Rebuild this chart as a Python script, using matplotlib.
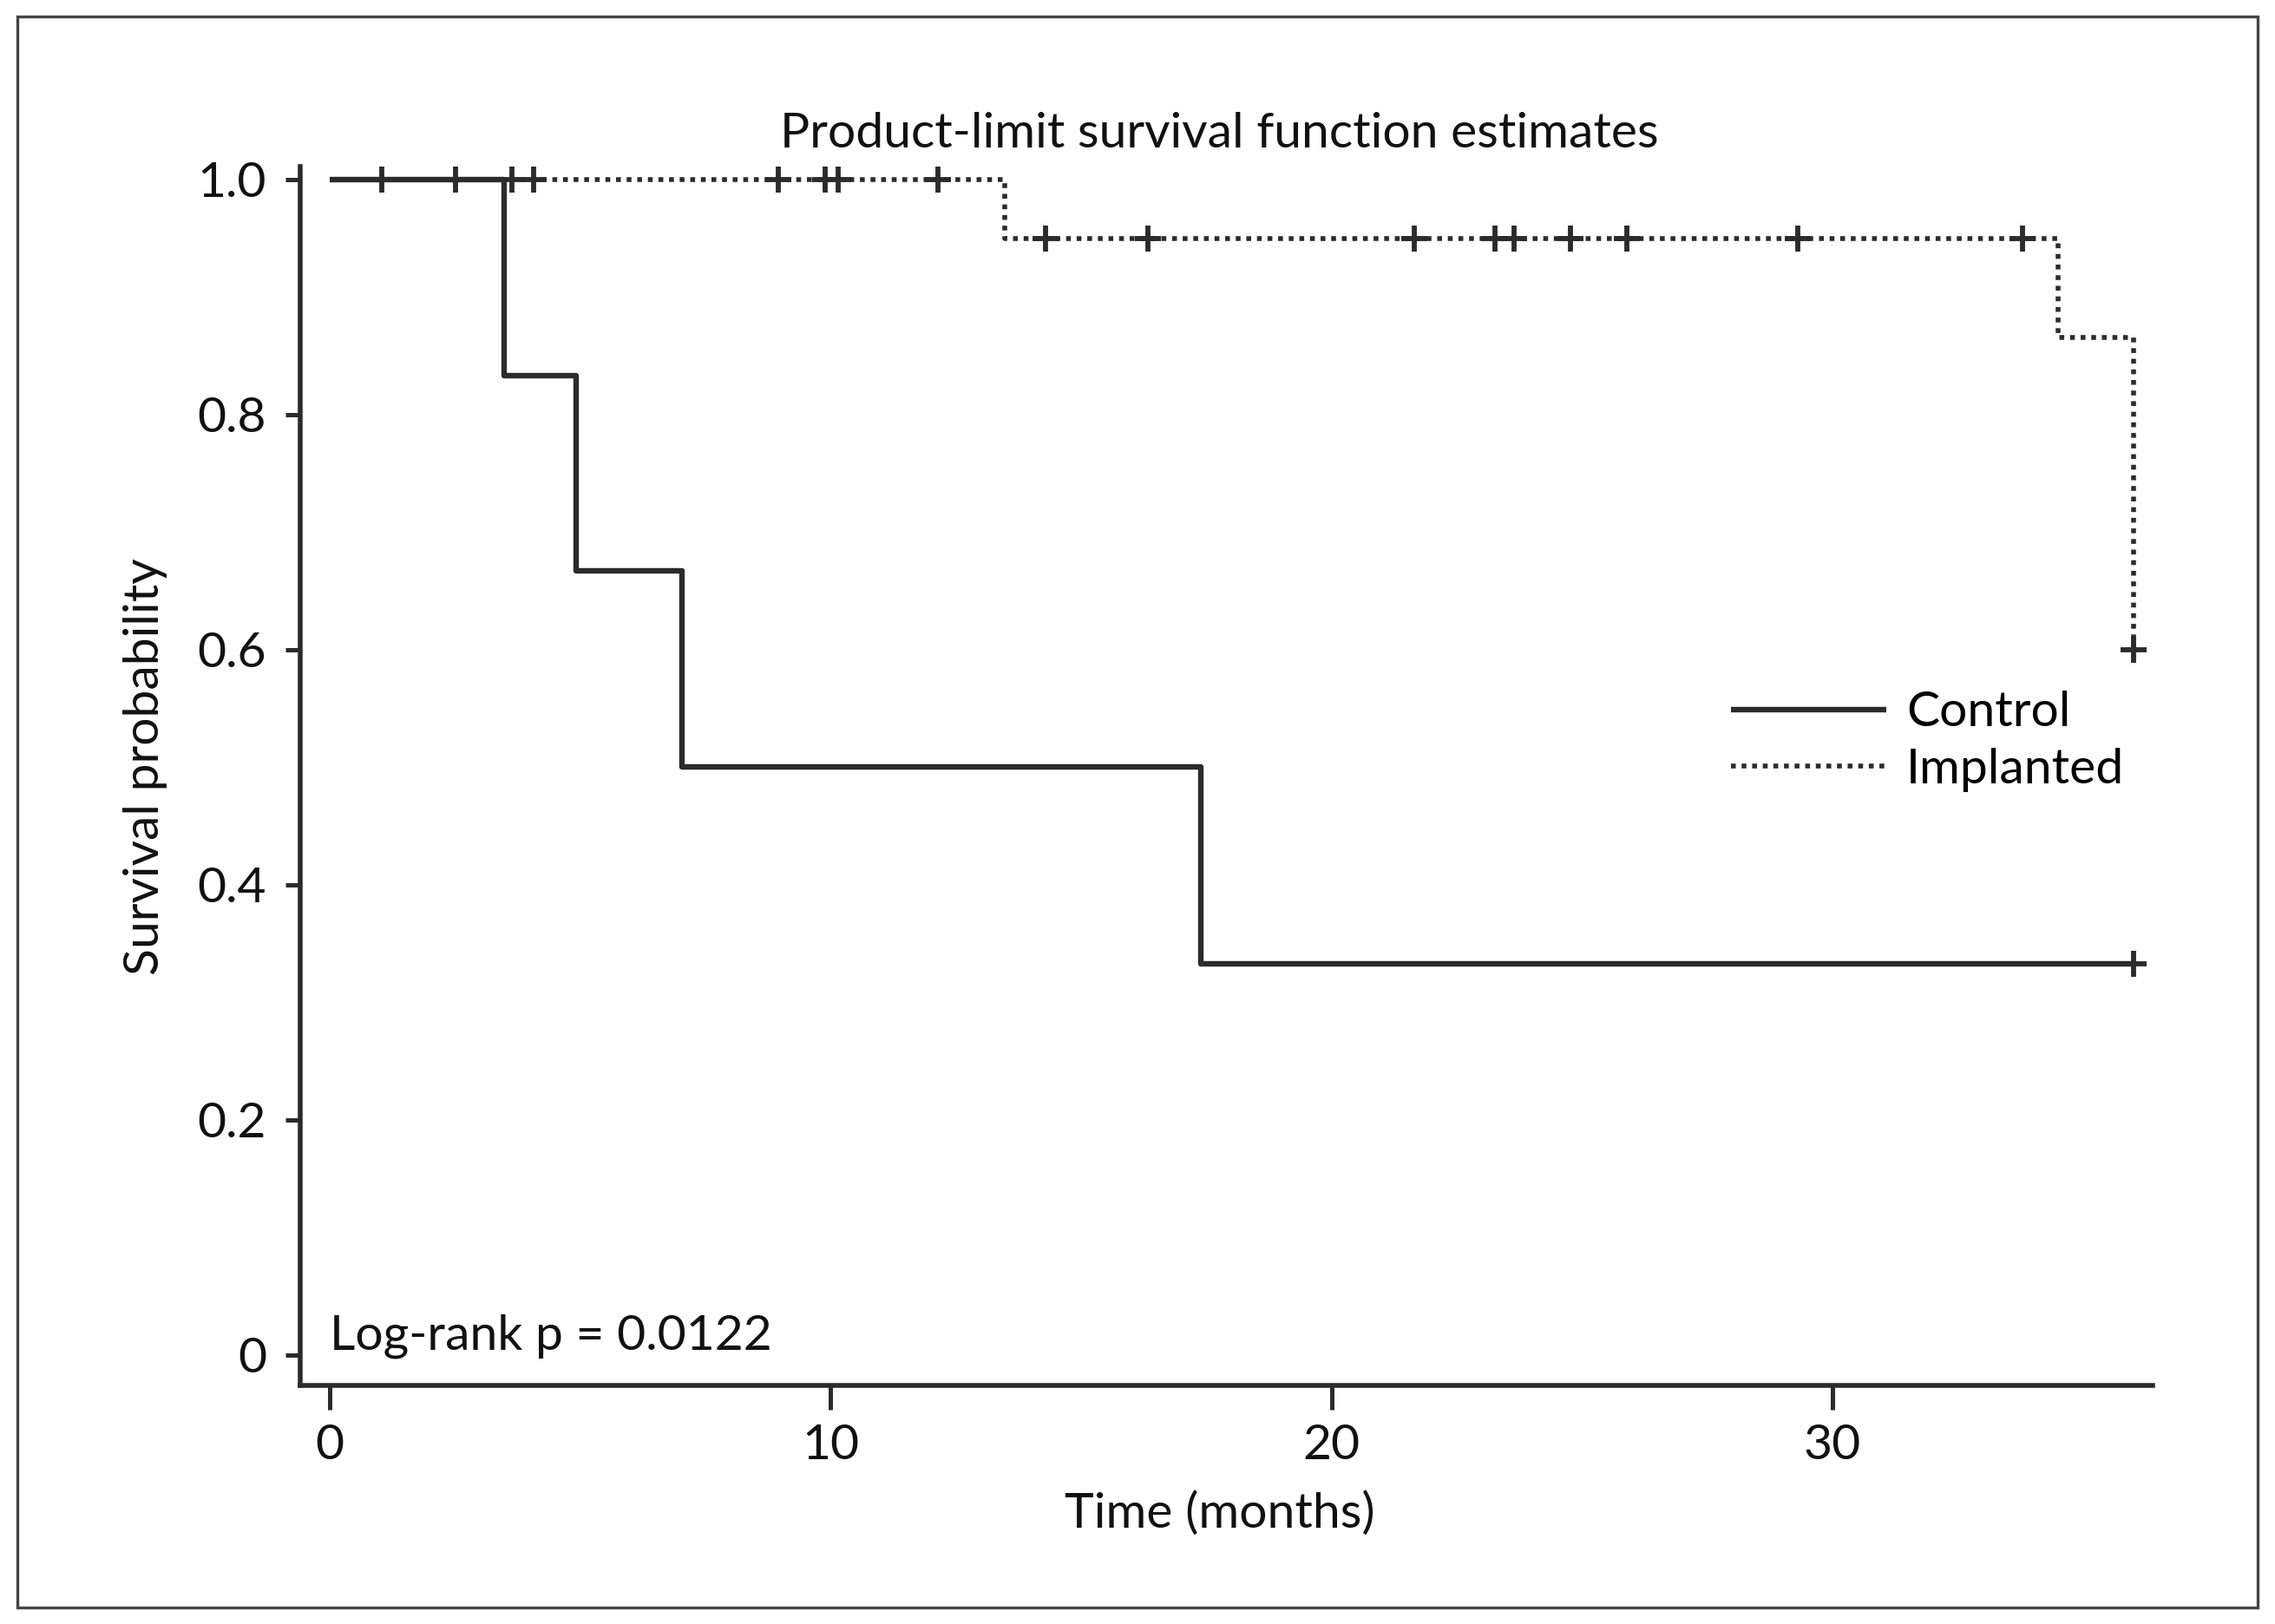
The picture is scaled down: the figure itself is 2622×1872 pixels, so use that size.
import matplotlib.pyplot as plt
from matplotlib.patches import Rectangle

# Control group: step times and survival levels
control_times = [0, 3.49, 4.92, 7.04, 17.4, 36.0]
control_surv = [1.0, 0.833, 0.667, 0.5, 0.333, 0.333]
control_censor_t = [1.04, 2.52, 36.0]
control_censor_s = [1.0, 1.0, 0.333]

# Implanted group
impl_times = [0, 13.48, 34.5, 36.0, 36.0]
impl_surv = [1.0, 0.95, 0.866, 0.60, 0.60]
impl_censor_t = [3.64, 4.08, 8.96, 9.90, 10.15, 12.14,
                 14.30, 16.34, 21.65, 23.27, 23.64, 24.77, 25.90, 29.30, 33.79,
                 36.0]
impl_censor_s = [1.0, 1.0, 1.0, 1.0, 1.0, 1.0,
                 0.95, 0.95, 0.95, 0.95, 0.95, 0.95, 0.95, 0.95, 0.95,
                 0.60]

x_ticks = [0, 10, 20, 30]
y_ticks = [0, 0.2, 0.4, 0.6, 0.8, 1.0]
y_labels = ['0', '0.2', '0.4', '0.6', '0.8', '1.0']

plt.rcParams['font.family'] = ['Lato', 'DejaVu Sans']
ink = '#2b2b2b'
txt = '#111111'
fs = 20.5

fig = plt.figure(figsize=(13.11, 9.36), dpi=200)
ax = fig.add_axes([0.132, 0.1469, 0.8143, 0.7505])

ax.step(control_times, control_surv, where='post', color=ink, lw=2.3,
        solid_capstyle='butt', label='Control')
ax.step(impl_times, impl_surv, where='post', color=ink, lw=2.0,
        linestyle=(0, (1, 1.2)), label='Implanted')
ax.plot(control_censor_t, control_censor_s, ls='none', marker='+', ms=11,
        mew=2.1, color=ink)
ax.plot(impl_censor_t, impl_censor_s, ls='none', marker='+', ms=11,
        mew=2.1, color=ink)

ax.set_xlim(-0.58, 36.39)
ax.set_ylim(-0.026, 1.011)
ax.set_xticks(x_ticks)
ax.set_xticklabels([str(t) for t in x_ticks])
ax.set_yticks(y_ticks)
ax.set_yticklabels(y_labels)

for s in ['top', 'right']:
    ax.spines[s].set_visible(False)
for s in ['left', 'bottom']:
    ax.spines[s].set_color(ink)
    ax.spines[s].set_linewidth(2.0)
ax.tick_params(axis='y', length=6, width=1.8, color=ink, pad=8,
               labelsize=fs, labelcolor=txt)
ax.tick_params(axis='x', length=10, width=1.8, color=ink, pad=6,
               labelsize=fs, labelcolor=txt)

ax.text(0, 0.005, 'Log-rank p = 0.0122', fontsize=fs, color=txt,
        va='baseline', ha='left')

fig.text(0.536, 0.9173, 'Product-limit survival function estimates',
         fontsize=fs, ha='center', va='center', color=txt)
fig.text(0.536, 0.068, 'Time (months)', fontsize=fs, ha='center',
         va='center', color=txt)
fig.text(0.064, 0.528, 'Survival probability', fontsize=fs, ha='center',
         va='center', rotation=90, color=txt)

ax.legend(loc='center left', bbox_to_anchor=(0.761, 0.5435),
          bbox_transform=fig.transFigure, frameon=False, fontsize=fs,
          handlelength=3.14, handletextpad=0.4, labelspacing=0.25,
          borderpad=0, borderaxespad=0)

fig.patches.append(Rectangle((20 / 2622, 19 / 1872), 2582 / 2622, 1834 / 1872,
                             transform=fig.transFigure, fill=False,
                             edgecolor='#444444', lw=1.2))

fig.savefig('out.png', dpi=200)
